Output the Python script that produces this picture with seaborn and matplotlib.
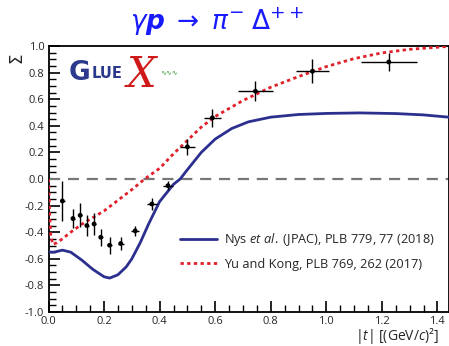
import matplotlib
matplotlib.use("Agg")
import matplotlib.pyplot as plt
import seaborn as sns
import numpy as np
import pandas as pd

# ---- data ----
pt_t = [0.050, 0.088, 0.114, 0.138, 0.164, 0.188, 0.220, 0.260, 0.312, 0.372, 0.430, 0.500, 0.590, 0.745, 0.950, 1.225]
pt_sigma = [-0.165, -0.297, -0.273, -0.350, -0.338, -0.438, -0.498, -0.485, -0.390, -0.188, -0.050, 0.242, 0.460, 0.660, 0.810, 0.880]
pt_yerr = [0.150, 0.070, 0.090, 0.080, 0.080, 0.065, 0.065, 0.050, 0.040, 0.045, 0.035, 0.060, 0.068, 0.077, 0.090, 0.068]
pt_xerr = [0.008, 0.008, 0.008, 0.008, 0.008, 0.008, 0.010, 0.010, 0.015, 0.018, 0.018, 0.026, 0.030, 0.063, 0.059, 0.100]

jpac_t = [0, 0.02, 0.05, 0.08, 0.12, 0.16, 0.2, 0.22, 0.25, 0.28, 0.3, 0.33, 0.36, 0.4, 0.45, 0.474,
          0.5, 0.55, 0.6, 0.66, 0.72, 0.8, 0.9, 1.0, 1.12, 1.25, 1.35, 1.44]
jpac_sigma = [-0.55, -0.55, -0.535, -0.55, -0.61, -0.68, -0.735, -0.745, -0.72, -0.66, -0.6, -0.48,
              -0.34, -0.17, -0.04, 0.0, 0.07, 0.2, 0.3, 0.38, 0.43, 0.465, 0.485, 0.493, 0.497, 0.492, 0.482, 0.465]

yk_t = [0, 0.004, 0.008, 0.015, 0.03, 0.05, 0.08, 0.12, 0.16, 0.2, 0.25, 0.3, 0.346, 0.4, 0.45, 0.5,
        0.55, 0.6, 0.7, 0.8, 0.9, 1.0, 1.1, 1.2, 1.3, 1.44]
yk_sigma = [0, -0.25, -0.42, -0.49, -0.48, -0.45, -0.40, -0.34, -0.29, -0.24, -0.16, -0.08, 0.0, 0.08,
            0.19, 0.29, 0.39, 0.47, 0.59, 0.69, 0.77, 0.845, 0.905, 0.948, 0.975, 0.997]

xticks = [0.0, 0.2, 0.4, 0.6, 0.8, 1.0, 1.2, 1.4]
yticks = [-1.0, -0.8, -0.6, -0.4, -0.2, 0.0, 0.2, 0.4, 0.6, 0.8, 1.0]

label_jpac = r"Nys $\mathit{et\ al.}$ (JPAC), PLB 779, 77 (2018)"
label_yk = "Yu and Kong, PLB 769, 262 (2017)"

sns.set_theme(style="ticks")
plt.rcParams['font.family'] = ['Open Sans', 'DejaVu Sans']
plt.rcParams['mathtext.fontset'] = 'custom'
plt.rcParams['mathtext.rm'] = 'Open Sans'
plt.rcParams['mathtext.it'] = 'Open Sans:italic'
plt.rcParams['mathtext.bf'] = 'Open Sans:bold'

fig = plt.figure(figsize=(4.49, 3.46), dpi=100)
ax = fig.add_axes([48.5 / 449, 1 - 312 / 346, (448.5 - 48.5) / 449, (312 - 46) / 346])

ax.axhline(0, color="#777777", lw=1.6, ls=(0, (5, 3.5)), zorder=1)

df_j = pd.DataFrame({"t": jpac_t, "s": jpac_sigma})
df_y = pd.DataFrame({"t": yk_t, "s": yk_sigma})
sns.lineplot(data=df_j, x="t", y="s", ax=ax, color="#2c2f8e", lw=2.0, label=label_jpac, zorder=3)
sns.lineplot(data=df_y, x="t", y="s", ax=ax, color="#e0202a", lw=2.0, ls=(0, (1.2, 1.2)), label=label_yk, zorder=3)

ax.errorbar(pt_t, pt_sigma, yerr=pt_yerr, xerr=pt_xerr, fmt='none', ecolor='black', elinewidth=1.0, capsize=0, zorder=4)
sns.scatterplot(x=pt_t, y=pt_sigma, ax=ax, color='black', s=12, edgecolor='none', zorder=5)

ax.set_xlim(0, 1.44)
ax.set_ylim(-1.0, 1.0)
ax.set_xticks(xticks)
ax.set_yticks(yticks)
ax.set_xticklabels([f"{v:.1f}" for v in xticks])
ax.set_yticklabels([f"{v:.1f}" for v in yticks])
ax.xaxis.set_minor_locator(matplotlib.ticker.MultipleLocator(0.05))
ax.yaxis.set_minor_locator(matplotlib.ticker.MultipleLocator(0.05))
ax.tick_params(which='major', direction='in', length=8, width=1.2, labelsize=8, color='black',
               top=False, right=False, pad=3)
ax.tick_params(which='minor', direction='in', length=5, width=1.0, color='black', top=False, right=False)
for s in ax.spines.values():
    s.set_linewidth(1.3)
    s.set_color('black')
ax.set_xlabel("")
ax.set_ylabel("")

fig.text(439 / 449, 1 - 336 / 346, r"$|t|$ [(GeV/$c$)²]", ha='right', va='center', fontsize=10)
fig.text(16 / 449, 1 - 58 / 346, "Σ", rotation=90, ha='center', va='center', fontsize=12,
         family='DejaVu Sans')
fig.text(217 / 449, 1 - 22 / 346, r"$\gamma\boldsymbol{p}\;\rightarrow\;\pi^{-}\;\Delta^{++}$",
         ha='center', va='center', fontsize=19, color='#1a1aff', family='DejaVu Sans',
         math_fontfamily='dejavusans')

# GlueX logo as text
fig.text(69 / 449, 1 - 73 / 346, "G", fontsize=19, fontweight='bold', color='#2b3a8c', ha='left', va='center',
         family='DejaVu Sans')
fig.text(92 / 449, 1 - 74 / 346, "LUE", fontsize=10.5, fontweight='bold', color='#2b3a8c', ha='left', va='center',
         family='DejaVu Sans')
fig.text(127 / 449, 1 - 75 / 346, "X", fontsize=30, color='#d01a1a', ha='left', va='center',
         family='DejaVu Serif', style='italic')
fig.text(160 / 449, 1 - 72 / 346, "∿∿∿", fontsize=5, color='#3a9a3a', ha='left', va='center', family='DejaVu Sans')

leg = ax.legend(loc='upper left', bbox_to_anchor=(126 / 400, 1 - (226 - 46) / 266), frameon=False,
                fontsize=9.2, handlelength=2.9, handletextpad=0.6, labelspacing=0.75, borderaxespad=0)

fig.savefig("out.png", dpi=100)
